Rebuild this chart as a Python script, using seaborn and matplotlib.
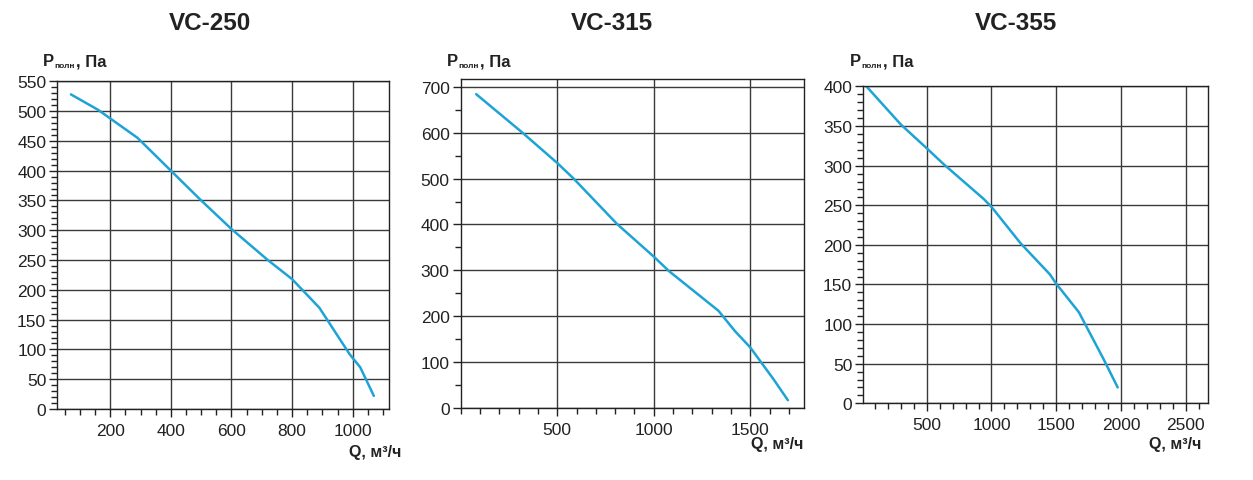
import numpy as np
import pandas as pd
import matplotlib
matplotlib.use("Agg")
import matplotlib.pyplot as plt
from matplotlib.ticker import MultipleLocator
import seaborn as sns

# ---- data ----
titles = ["VC-250", "VC-315", "VC-355"]

q250 = [70, 160, 290, 400, 500, 600, 720, 800, 890, 990, 1025, 1070]
p250 = [528, 502, 455, 400, 350, 302, 250, 218, 170, 92, 70, 22]

q315 = [80, 320, 500, 585, 810, 1000, 1080, 1335, 1420, 1500, 1620, 1695]
p315 = [684, 600, 534, 500, 401, 330, 298, 212, 168, 132, 63, 17]

q355 = [35, 300, 500, 630, 940, 1000, 1225, 1450, 1500, 1675, 1865, 1975]
p355 = [400, 352, 322, 302, 258, 248, 202, 163, 151, 115, 56, 20]

qs = [q250, q315, q355]
ps = [p250, p315, p355]

xlims = [(25, 1120), (0, 1780), (10, 2670)]
ylims = [(0, 550), (0, 717), (0, 401)]
xmajor = [200, 500, 500]
xminor = [50, 100, 100]
ymajor = [50, 100, 50]
yminor = [10, 50, 10]

axes_pos = [
    [57.3, 82.3, 389.0, 410.0],
    [460.7, 80.0, 804.3, 409.0],
    [863.3, 86.7, 1207.7, 404.3],
]
title_x = [210, 612, 1016]
ylabel_x = [43, 447, 850]
xlabel_right = [401, 803, 1201]
xlabel_y = [452, 444, 445]

W, H = 1253, 481

sns.set_style("white")
plt.rcParams["font.family"] = ["Liberation Sans", "DejaVu Sans"]

fig = plt.figure(figsize=(W / 100, H / 100), dpi=100)
line_color = "#1ea3d6"
txt_color = "#222222"

for i in range(3):
    l, t, r, b = axes_pos[i]
    ax = fig.add_axes([l / W, 1 - b / H, (r - l) / W, (b - t) / H])
    df = pd.DataFrame({"Q": qs[i], "P": ps[i]})
    sns.lineplot(data=df, x="Q", y="P", ax=ax, color=line_color, linewidth=1.8,
                 sort=False, estimator=None)
    ax.set_xlim(*xlims[i])
    ax.set_ylim(*ylims[i])
    ax.xaxis.set_major_locator(MultipleLocator(xmajor[i]))
    ax.yaxis.set_major_locator(MultipleLocator(ymajor[i]))
    ax.set_xticks([v for v in ax.get_xticks() if v > xlims[i][0] + 1 and v <= xlims[i][1]])
    ax.xaxis.set_minor_locator(MultipleLocator(xminor[i]))
    ax.yaxis.set_minor_locator(MultipleLocator(yminor[i]))
    ax.grid(True, which="major", color="#3a3a3a", linewidth=1.0)
    ax.set_axisbelow(True)
    for s in ax.spines.values():
        s.set_color(txt_color)
        s.set_linewidth(1.0)
    ax.tick_params(axis="both", which="major", direction="out", length=6, width=1,
                   color=txt_color, labelsize=12.5, labelcolor=txt_color, pad=2,
                   bottom=True, left=True)
    ax.tick_params(axis="x", which="major", pad=4)
    ax.tick_params(axis="both", which="minor", direction="out", length=4, width=1,
                   color=txt_color, bottom=True, left=True)
    ax.set_xlabel("")
    ax.set_ylabel("")

    fig.text(title_x[i] / W, 1 - 24 / H, titles[i], ha="center", va="center",
             fontsize=17.5, fontweight="bold", color=txt_color)
    # y-axis label: P with small subscript "полн", then ", Па"
    x0 = ylabel_x[i]
    fig.text(x0 / W, 1 - 66.5 / H, "P", ha="left", va="baseline",
             fontsize=12, fontweight="bold", color=txt_color)
    fig.text((x0 + 11.5) / W, 1 - 68.5 / H, "полн", ha="left", va="baseline",
             fontsize=6, fontweight="bold", color=txt_color)
    fig.text((x0 + 33) / W, 1 - 66.5 / H, ", Па", ha="left", va="baseline",
             fontsize=12, fontweight="bold", color=txt_color)
    fig.text(xlabel_right[i] / W, 1 - xlabel_y[i] / H, "Q, м³/ч", ha="right",
             va="center", fontsize=11.5, fontweight="bold", color=txt_color)

fig.savefig("out.png", dpi=100, facecolor="white")
